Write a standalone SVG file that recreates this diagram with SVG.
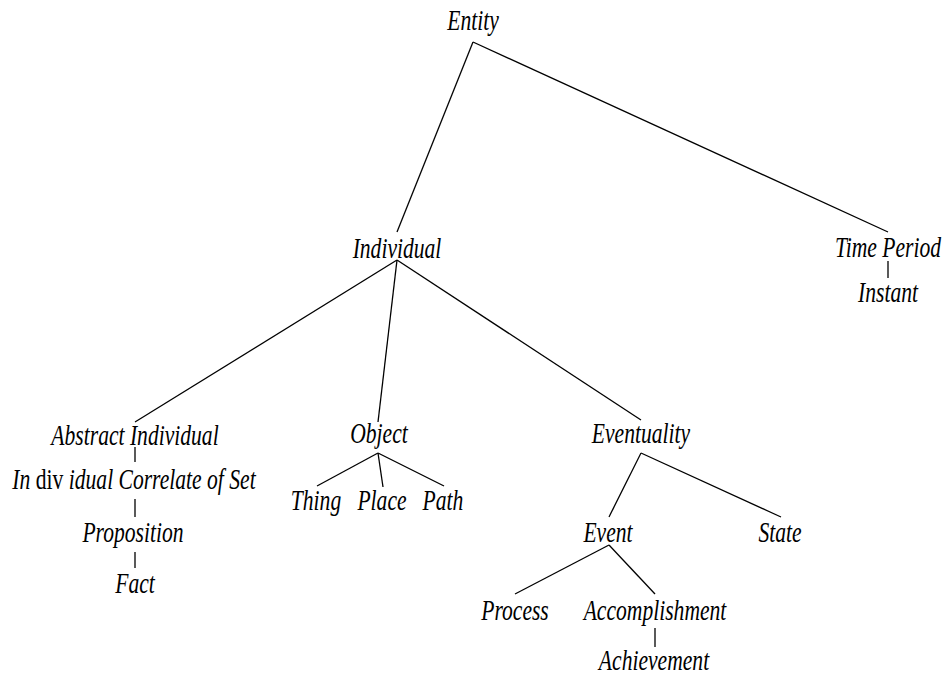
<svg xmlns="http://www.w3.org/2000/svg" width="945" height="677" viewBox="0 0 945 677">
<style>
.lbl text{text-anchor:middle}
#edges line{stroke:#000;stroke-width:1.3}
</style>
<rect width="945" height="677" fill="#fff"/>
<g id="edges">
<line x1="473" y1="42" x2="397" y2="232"/>
<line x1="473" y1="42" x2="888" y2="232"/>
<line x1="888" y1="261" x2="888" y2="278"/>
<line x1="397" y1="260" x2="135" y2="422"/>
<line x1="397" y1="260" x2="378" y2="422"/>
<line x1="397" y1="260" x2="641" y2="420"/>
<line x1="135" y1="447" x2="135" y2="462"/>
<line x1="135" y1="499" x2="135" y2="517"/>
<line x1="135" y1="552" x2="135" y2="568"/>
<line x1="378" y1="453" x2="317" y2="486"/>
<line x1="378" y1="453" x2="383" y2="487"/>
<line x1="378" y1="453" x2="444" y2="486"/>
<line x1="641" y1="453" x2="609" y2="517"/>
<line x1="641" y1="453" x2="781" y2="517"/>
<line x1="609" y1="545" x2="515" y2="594"/>
<line x1="609" y1="545" x2="655" y2="594"/>
<line x1="655" y1="628" x2="655" y2="647"/>
</g>
<g class="lbl" font-family="Liberation Serif" font-style="italic" font-size="30" fill="#000">
<g id="entity"><text transform="translate(473,30) scale(0.72,1)">Entity</text></g>
<g id="individual"><text transform="translate(397,258) scale(0.72,1)">Individual</text></g>
<g id="timeperiod"><text transform="translate(888,257) scale(0.72,1)">Time Period</text></g>
<g id="instant"><text transform="translate(888,302) scale(0.72,1)">Instant</text></g>
<g id="abstract"><text transform="translate(135,445) scale(0.72,1)">Abstract Individual</text></g>
<g id="correlate"><text transform="translate(134,489) scale(0.72,1)">In <tspan font-style="normal">div</tspan> idual Correlate of Set</text></g>
<g id="proposition"><text transform="translate(133,542) scale(0.72,1)">Proposition</text></g>
<g id="fact"><text transform="translate(135,593) scale(0.72,1)">Fact</text></g>
<g id="object"><text transform="translate(379,443) scale(0.72,1)">Object</text></g>
<g id="thing"><text transform="translate(316,510) scale(0.72,1)">Thing</text></g>
<g id="place"><text transform="translate(382,510) scale(0.72,1)">Place</text></g>
<g id="path"><text transform="translate(443,510) scale(0.72,1)">Path</text></g>
<g id="eventuality"><text transform="translate(641,443) scale(0.72,1)">Eventuality</text></g>
<g id="event"><text transform="translate(608,542) scale(0.72,1)">Event</text></g>
<g id="state"><text transform="translate(780,542) scale(0.72,1)">State</text></g>
<g id="process"><text transform="translate(515,620) scale(0.72,1)">Process</text></g>
<g id="accomplishment"><text transform="translate(655,620) scale(0.72,1)">Accomplishment</text></g>
<g id="achievement"><text transform="translate(654,670) scale(0.72,1)">Achievement</text></g>
</g>
</svg>
